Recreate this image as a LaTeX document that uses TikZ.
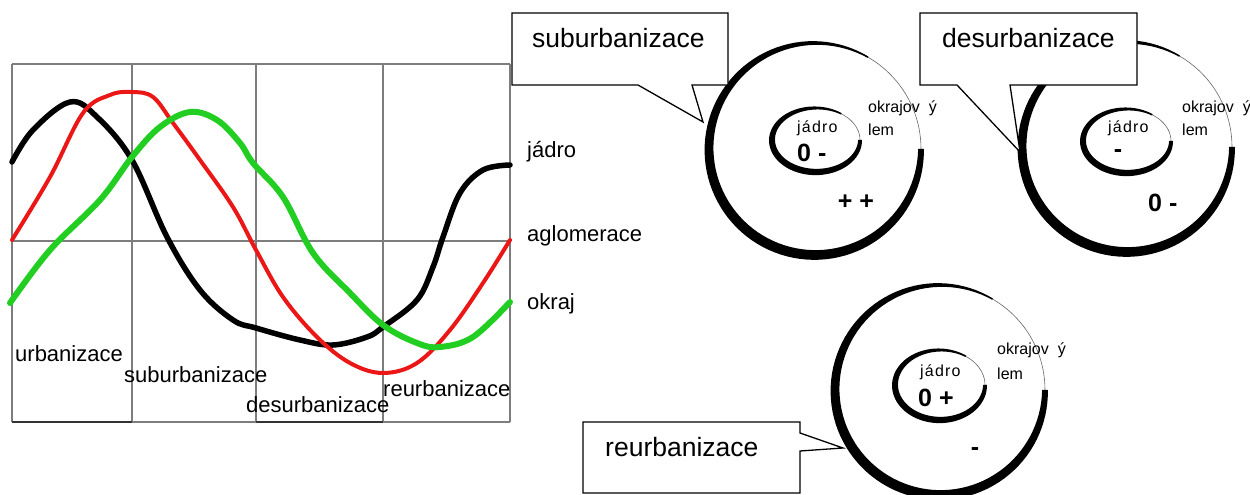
\documentclass[tikz,border=0pt]{standalone}
\usepackage{fontspec}
\setmainfont{Liberation Sans}
\usetikzlibrary{calc}

\definecolor{curvered}{RGB}{235,22,22}
\definecolor{curvegreen}{RGB}{34,206,34}
\definecolor{gridgray}{RGB}{125,125,125}

% brush ring: centre x, centre y, x radius, y radius, max width, start angle
\newcommand{\brushring}[6]{%
  \draw[line width=0.6pt,black!60] (#1,#2) ellipse[x radius=#3pt,y radius=#4pt];
  \fill[black] plot[domain=#6:360,samples=90]
    ({#1+(#3+0.5*(1.5+#5*sin(0.5*(\x-#6))))*cos(\x)},{#2+(#4+0.5*(1.5+#5*sin(0.5*(\x-#6))))*sin(\x)})
    -- plot[domain=360:#6,samples=90]
    ({#1+(#3-0.5*(1.5+#5*sin(0.5*(\x-#6))))*cos(\x)},{#2+(#4-0.5*(1.5+#5*sin(0.5*(\x-#6))))*sin(\x)})
    -- cycle;}

\newcommand{\jadro}{j\kern1.2pt á\kern1.2pt d\kern1.2pt r\kern1.2pt o}

\begin{document}
\begin{tikzpicture}[x=1pt,y=1pt,
    chartlabel/.style={inner sep=0pt,anchor=base west,font=\fontsize{22}{26}\selectfont},
    calltext/.style={inner sep=0pt,anchor=base west,font=\fontsize{26.5}{30}\selectfont},
    ringlabel/.style={inner sep=0pt,anchor=base west,font=\fontsize{16}{19}\selectfont},
    ringvalue/.style={inner sep=0pt,font=\fontsize{25}{29}\selectfont\bfseries},
    callout/.style={draw=black,line width=1.3pt,fill=white,line join=miter},
    gridline/.style={draw=gridgray,line width=1.4pt}]
    \useasboundingbox (0,0) rectangle (1250,495);
    % Grid of the chart
    \foreach \gx in {12,132,256,383,510}
        \draw[gridline] (\gx,73) -- (\gx,431);
    \draw[gridline] (12,431) -- (510,431);
    \draw[gridline] (12,254) -- (510,254);
    \draw[gridline] (12,73) -- (510,73);
    \draw[line width=1.8pt,black!80] (12,73) -- (132,73);
    \draw[line width=1.8pt,black!80] (256,73) -- (383,73);
    % Curves
    \draw[line width=5.5pt,line cap=round] plot[smooth,tension=0.6] coordinates {
        (12,333) (33,365) (70,393) (97,378) (132,335) (167,258) (200,205)
        (233,175) (256,167) (300,155) (333,150) (367,158) (383,168) (417,195)
        (433,228) (443,258) (460,302) (483,325) (510,330)};
    \draw[line width=4pt,curvered,line cap=round] plot[smooth,tension=0.6] coordinates {
        (12,255) (50,318) (83,382) (110,400) (132,403) (153,398) (173,372)
        (200,335) (233,288) (256,245) (283,198) (317,158) (350,132) (383,122)
        (417,132) (450,165) (483,212) (510,255)};
    \draw[line width=6pt,curvegreen,line cap=round] plot[smooth,tension=0.6] coordinates {
        (10,192) (50,245) (100,295) (132,338) (160,368) (190,383) (217,375)
        (240,352) (253,332) (283,298) (313,242) (350,202) (383,170) (417,152)
        (440,148) (473,158) (510,193)};
    % Chart labels
    \node[chartlabel] (urb) at (15,133) {urbanizace};
    \node[chartlabel] (sub) at (124,112) {suburbanizace};
    \node[chartlabel] (des) at (246,82) {desurbanizace};
    \node[chartlabel] (reur) at (383,98) {reurbanizace};
    \node[chartlabel] (core) at (527,337) {jádro};
    \node[chartlabel] (aglo) at (527,253) {aglomerace};
    \node[chartlabel] (edge) at (527,185) {okraj};
    % Rings
    \brushring{815}{346}{106}{106}{8.5}{60}
    \brushring{816}{355}{44}{32}{5}{55}
    \brushring{1127}{348}{105}{105}{8.5}{60}
    \brushring{1127}{354}{44}{32}{5}{55}
    \brushring{940}{105}{105}{105}{8.5}{60}
    \brushring{940}{110}{45}{35}{5}{55}
    % Ring texts
    \node[ringlabel] (coreA) at (797,362) {\jadro};
    \node[ringvalue,anchor=base west] (coreAval) at (797,333) {0 -};
    \node[ringlabel] (edgeA) at (868,382) {okrajov\hspace{9pt}ý};
    \node[ringlabel] (lemA) at (868,359) {lem};
    \node[ringvalue] (edgeAval) at (856,293) {+ +};
    \node[ringlabel] (coreB) at (1108,362) {\jadro};
    \node[ringvalue] (coreBval) at (1118,341) {-};
    \node[ringlabel] (edgeB) at (1182,382) {okrajov\hspace{9pt}ý};
    \node[ringlabel] (lemB) at (1182,359) {lem};
    \node[ringvalue,anchor=base west] (edgeBval) at (1148,283) {0 -};
    \node[ringlabel] (coreC) at (920,118) {\jadro};
    \node[ringvalue,anchor=base west] (coreCval) at (918,88) {0 +};
    \node[ringlabel] (edgeC) at (997,140) {okrajov\hspace{9pt}ý};
    \node[ringlabel] (lemC) at (997,115) {lem};
    \node[ringvalue] (edgeCval) at (975,43) {-};
    % Callouts
    \coordinate (subtip) at (703,373);
    \coordinate (destip) at (1020,343);
    \coordinate (reurtip) at (843,47);
    \draw[callout] (512,482) -- (728,482) -- (728,410) -- (692,410) -- (subtip)
        -- (638,410) -- (512,410) -- cycle;
    \node[calltext] (subcall) at (532,447) {suburbanizace};
    \draw[callout] (920,482) -- (1137,482) -- (1137,410) -- (1010,410) -- (destip)
        -- (957,410) -- (920,410) -- cycle;
    \node[calltext] (descall) at (942,447) {desurbanizace};
    \draw[callout] (583,73) -- (800,73) -- (800,62) -- (reurtip) -- (800,44)
        -- (800,2) -- (583,2) -- cycle;
    \node[calltext] (reurcall) at (605,38) {reurbanizace};
\end{tikzpicture}
\end{document}
